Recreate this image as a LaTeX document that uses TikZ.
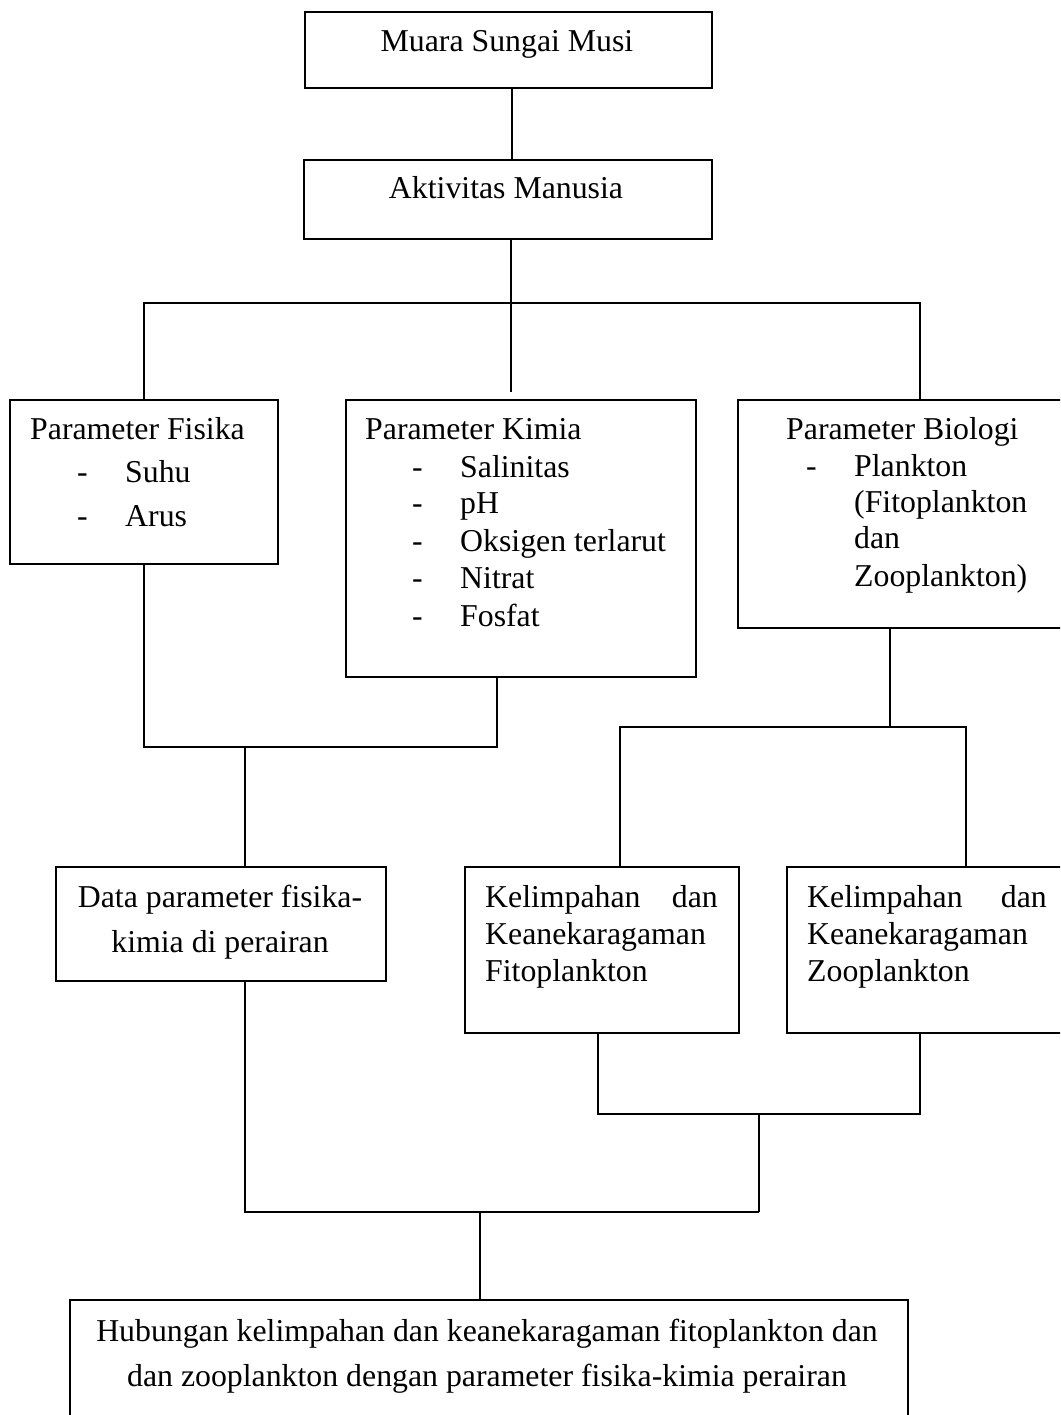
\documentclass[tikz,border=0pt]{standalone}
\usepackage{fontspec}
\setmainfont{Liberation Serif}
\newcommand\fsz{\fontsize{31.8}{37}\selectfont}
\tikzset{
  box/.style={draw, line width=1.6pt, anchor=north west, inner sep=0pt},
  conn/.style={line width=1.2pt},
  txt/.style={inner sep=0pt, font=\fsz},
  lt/.style={txt, anchor=base west},
  ct/.style={txt, anchor=base},
  rt/.style={txt, anchor=base east},
}
\begin{document}
\begin{tikzpicture}[x=1pt, y=-1pt]
\useasboundingbox (0,0) rectangle (1060,1415);
\clip (0,0) rectangle (1060,1415);
% boxes
\node[box, minimum width=407pt, minimum height=76pt] (b1) at (304,11) {};
\node[box, minimum width=408pt, minimum height=79pt] (b2) at (303,159) {};
\node[box, minimum width=268pt, minimum height=164pt] (fis) at (9,399) {};
\node[box, minimum width=350pt, minimum height=277pt] (kim) at (345,399) {};
\node[box, minimum width=340pt, minimum height=228pt] (bio) at (737,399) {};
\node[box, minimum width=330pt, minimum height=114pt] (data) at (55,866) {};
\node[box, minimum width=274pt, minimum height=166pt] (fito) at (464,866) {};
\node[box, minimum width=290pt, minimum height=166pt] (zoo) at (786,866) {};
\node[box, minimum width=838pt, minimum height=140pt] (hub) at (69,1299) {};
% junction coordinates
\coordinate (x1) at (512,0);
\coordinate (kgap) at (511,392);
\coordinate (tl) at (144,303);
\coordinate (tr) at (920,303);
\coordinate (fl) at (144,747);
\coordinate (fr) at (497,747);
\coordinate (fm) at (245,747);
\coordinate (bm) at (890,727);
\coordinate (bl) at (620,727);
\coordinate (br) at (966,727);
\coordinate (pl) at (598,1114);
\coordinate (pr) at (920,1114);
\coordinate (pm) at (759,1114);
\coordinate (ql) at (245,1212);
\coordinate (qr) at (759,1212);
\coordinate (qm) at (480,1212);
% connectors
\draw[conn] (b1.south -| x1) -- (b2.north -| x1);
\draw[conn] (b2.south -| kgap) -- (kgap);
\draw[conn] (fis.north -| tl) -- (tl) -- (tr) -- (bio.north -| tr);
\draw[conn] (fis.south -| fl) -- (fl) -- (fr) -- (kim.south -| fr);
\draw[conn] (fm) -- (data.north -| fm);
\draw[conn] (bio.south -| bm) -- (bm);
\draw[conn] (fito.north -| bl) -- (bl) -- (br) -- (zoo.north -| br);
\draw[conn] (fito.south -| pl) -- (pl) -- (pr) -- (zoo.south -| pr);
\draw[conn] (pm) -- (qr);
\draw[conn] (data.south -| ql) -- (ql) -- (qr);
\draw[conn] (qm) -- (hub.north -| qm);
% texts
\node[ct] (t1) at (507,52) {Muara Sungai Musi};
\node[ct] (t2) at (506,199) {Aktivitas Manusia};
\node[lt] (f0) at (30,439) {Parameter Fisika};
\node[lt] (f1d) at (77,482) {-};
\node[lt] (f1) at (125,482) {Suhu};
\node[lt] (f2d) at (77,526) {-};
\node[lt] (f2) at (125,526) {Arus};
\node[lt] (k0) at (365,439) {Parameter Kimia};
\node[lt] (k1d) at (412,477) {-};
\node[lt] (k1) at (460,477) {Salinitas};
\node[lt] (k2d) at (412,513) {-};
\node[lt] (k2) at (460,513) {pH};
\node[lt] (k3d) at (412,551) {-};
\node[lt] (k3) at (460,551) {Oksigen terlarut};
\node[lt] (k4d) at (412,588) {-};
\node[lt] (k4) at (460,588) {Nitrat};
\node[lt] (k5d) at (412,626) {-};
\node[lt] (k5) at (460,626) {Fosfat};
\node[lt] (g0) at (786,439) {Parameter Biologi};
\node[lt] (g1d) at (806,476) {-};
\node[lt] (g1) at (854,476) {Plankton};
\node[lt] (g2) at (854,512) {(Fitoplankton};
\node[lt] (g3) at (854,548) {dan};
\node[lt] (g4) at (854,586) {Zooplankton)};
\node[ct] (d1) at (220,907) {Data parameter fisika-};
\node[ct] (d2) at (220,952) {kimia di perairan};
\node[lt] (p1a) at (485,907) {Kelimpahan};
\node[rt] (p1b) at (718,907) {dan};
\node[lt] (p2) at (485,944) {Keanekaragaman};
\node[lt] (p3) at (485,981) {Fitoplankton};
\node[lt] (z1a) at (807,907) {Kelimpahan};
\node[rt] (z1b) at (1047,907) {dan};
\node[lt] (z2) at (807,944) {Keanekaragaman};
\node[lt] (z3) at (807,981) {Zooplankton};
\node[ct] (h1) at (487,1341) {Hubungan kelimpahan dan keanekaragaman fitoplankton dan};
\node[ct] (h2) at (487,1386) {dan zooplankton dengan parameter fisika-kimia perairan};
\end{tikzpicture}
\end{document}
